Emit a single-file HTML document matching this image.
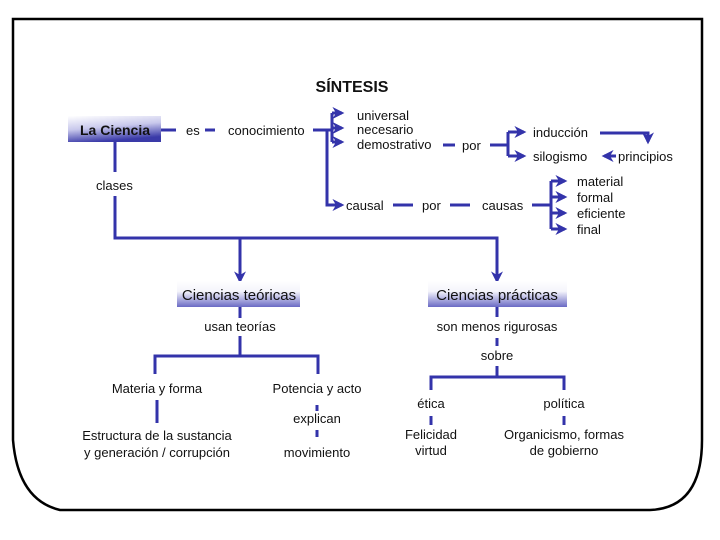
<!DOCTYPE html>
<html><head><meta charset="utf-8"><style>
body{margin:0;background:#fff}
svg{display:block}
text{font-family:"Liberation Sans",sans-serif;font-size:13px;fill:#111}
</style></head><body>
<svg width="720" height="540" viewBox="0 0 720 540" xmlns="http://www.w3.org/2000/svg">
<defs>
<linearGradient id="g1" x1="0" y1="0" x2="0.3" y2="1"><stop offset="0" stop-color="#fff"/><stop offset="0.5" stop-color="#c8c8ec"/><stop offset="1" stop-color="#3a3aa8"/></linearGradient>
<linearGradient id="g2" x1="0" y1="0" x2="0" y2="1"><stop offset="0" stop-color="#fff"/><stop offset="0.4" stop-color="#f4f4fb"/><stop offset="1" stop-color="#6a6ac4"/></linearGradient>
<marker id="a" viewBox="0 0 10 10" refX="8" refY="5" markerWidth="4" markerHeight="4" orient="auto"><path d="M0 0L10 5L0 10L3 5Z" fill="#3333aa"/></marker>
</defs>
<path d="M13 19 L702 19 L702 440 Q702 508 650 510 L60 510 Q18 500 13 440 Z" fill="none" stroke="#000" stroke-width="2.5"/>
<text x="352" y="92" text-anchor="middle" style="font-weight:bold;font-size:16px">SÍNTESIS</text>
<g stroke="#3333aa" stroke-width="3" fill="none">
<path d="M161 130H176M205 130H215M313 130H332"/>
<path d="M332 113V142"/>
<path d="M332 113H342" marker-end="url(#a)"/>
<path d="M332 128H342" marker-end="url(#a)"/>
<path d="M332 142H342" marker-end="url(#a)"/>
<path d="M327 130V205H342" marker-end="url(#a)"/>
<path d="M443 145H455M490 145H508"/>
<path d="M508 132V156"/>
<path d="M508 132H524" marker-end="url(#a)"/>
<path d="M508 156H524" marker-end="url(#a)"/>
<path d="M600 133H648V142" marker-end="url(#a)"/>
<path d="M616 156H604" marker-end="url(#a)"/>
<path d="M393 205H413M450 205H470M532 205H551"/>
<path d="M551 181V229"/>
<path d="M551 181H565" marker-end="url(#a)"/>
<path d="M551 197H565" marker-end="url(#a)"/>
<path d="M551 213H565" marker-end="url(#a)"/>
<path d="M551 229H565" marker-end="url(#a)"/>
<path d="M115 142V172M115 196V238H497V262" />
<path d="M497 262V281" marker-end="url(#a)"/>
<path d="M240 238V281" marker-end="url(#a)"/>
<path d="M240 307V318M240 336V356M155 374V356H318V374"/>
<path d="M157 400V423M317 405V411M317 430V437"/>
<path d="M497 307V317M497 338V346M497 366V377M431 390V377H564V390"/>
<path d="M431 416V425M564 416V425"/>
</g>
<rect x="68" y="116" width="93" height="26" fill="url(#g1)"/>
<text x="115" y="135" text-anchor="middle" style="font-weight:bold;font-size:14px">La Ciencia</text>
<text x="186" y="135">es</text>
<text x="228" y="135">conocimiento</text>
<text x="357" y="120">universal</text>
<text x="357" y="134">necesario</text>
<text x="357" y="149">demostrativo</text>
<text x="462" y="150">por</text>
<text x="533" y="137">inducción</text>
<text x="533" y="161">silogismo</text>
<text x="618" y="161">principios</text>
<text x="96" y="190">clases</text>
<text x="346" y="210">causal</text>
<text x="422" y="210">por</text>
<text x="482" y="210">causas</text>
<text x="577" y="186">material</text>
<text x="577" y="202">formal</text>
<text x="577" y="218">eficiente</text>
<text x="577" y="234">final</text>
<rect x="177" y="281" width="123" height="26" fill="url(#g2)"/>
<rect x="428" y="281" width="139" height="26" fill="url(#g2)"/>
<text x="239" y="300" text-anchor="middle" style="font-size:15px">Ciencias teóricas</text>
<text x="497" y="300" text-anchor="middle" style="font-size:15px">Ciencias prácticas</text>
<text x="240" y="331" text-anchor="middle">usan teorías</text>
<text x="497" y="331" text-anchor="middle">son menos rigurosas</text>
<text x="497" y="360" text-anchor="middle">sobre</text>
<text x="157" y="393" text-anchor="middle">Materia y forma</text>
<text x="317" y="393" text-anchor="middle">Potencia y acto</text>
<text x="317" y="423" text-anchor="middle">explican</text>
<text x="157" y="440" text-anchor="middle">Estructura de la sustancia</text>
<text x="157" y="457" text-anchor="middle">y generación / corrupción</text>
<text x="317" y="457" text-anchor="middle">movimiento</text>
<text x="431" y="408" text-anchor="middle">ética</text>
<text x="564" y="408" text-anchor="middle">política</text>
<text x="431" y="439" text-anchor="middle">Felicidad</text>
<text x="431" y="455" text-anchor="middle">virtud</text>
<text x="564" y="439" text-anchor="middle">Organicismo, formas</text>
<text x="564" y="455" text-anchor="middle">de gobierno</text>
</svg>
</body></html>
